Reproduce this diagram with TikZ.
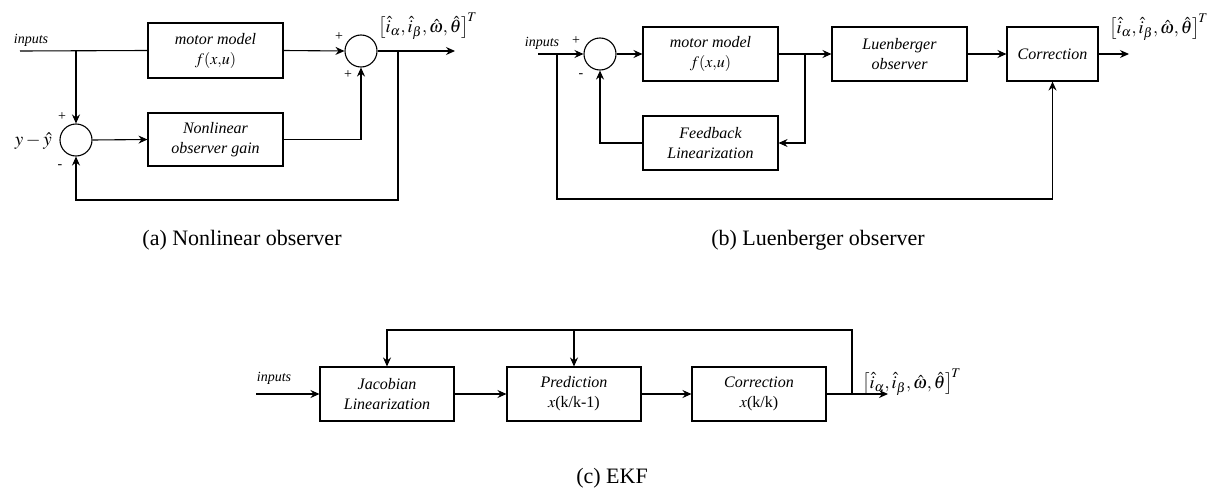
\documentclass[tikz,border=0pt]{standalone}
\usepackage{mathptmx}
\usepackage[no-math]{fontspec}
\setmainfont{Liberation Serif}
\usetikzlibrary{arrows.meta}
\tikzset{
  blk/.style={draw, line width=1.1pt, minimum width=135pt, minimum height=54pt, align=center, inner sep=0pt,
    font=\fontsize{16}{20}\selectfont\itshape},
  sumc/.style={draw, circle, line width=1.1pt, minimum size=32pt, inner sep=0pt},
  arr/.style={line width=1.1pt, -{Stealth[length=9pt,width=8pt,inset=3pt]}},
  ln/.style={line width=1.1pt},
  small/.style={font=\fontsize{14}{16}\selectfont\itshape, inner sep=0pt},
  sgn/.style={font=\fontsize{14}{16}\selectfont, inner sep=0pt},
  outl/.style={font=\fontsize{18}{22}\selectfont, inner sep=0pt, anchor=west},
  captxt/.style={font=\fontsize{22}{26}\selectfont, inner sep=0pt}
}
\newcommand{\outvec}{$\left[\hat{i}_\alpha,\hat{i}_\beta,\hat{\omega},\hat{\theta}\right]^{\!T}$}
\begin{document}
\begin{tikzpicture}[x=1pt,y=-1pt]
\useasboundingbox (0,0) rectangle (1209,495);
% ---------------- (a) ----------------
\node[blk, minimum height=55pt] (mma) at (215.5,50.5) {motor model\\\upshape$f(x{,}u)$};
\node[blk, minimum height=53pt] (nla) at (215.5,139.5) {Nonlinear\\observer gain};
\node[sumc] (s1a) at (76,140) {};
\node[sumc] (s2a) at (361,51) {};
\coordinate (ina) at (20,51);
\coordinate (j1a) at (76,51);
\coordinate (j2a) at (398,51);
\coordinate (outa) at (455,51);
\coordinate (bra) at (398,200);
\node[small] (inputa) at (31,40) {inputs};
\node[sgn] (pa1) at (62,117) {+};
\node[sgn] (ma1) at (60,167) {-};
\node[font=\fontsize{19}{22}\selectfont, inner sep=0pt, anchor=east] (yya) at (52,141) {$y-\hat{y}$};
\node[sgn] (pa2) at (339,37) {+};
\node[sgn] (pa3) at (348,75) {+};
\node[outl] (oa) at (378,26) {\outvec};
\draw[ln] (ina) -- (mma.west);
\draw[arr] (j1a) -- (s1a.north);
\draw[arr] (s1a.east) -- (nla.west);
\draw[arr] (mma.east) -- (s2a.west);
\draw[arr] (nla.east) -| (s2a.south);
\draw[arr] (s2a.east) -- (outa);
\draw[arr] (j2a) -- (bra) -| (s1a.south);
\node[captxt] (capa) at (242,240) {(a) Nonlinear observer};
% ---------------- (b) ----------------
\node[small] (inputb) at (542,43) {inputs};
\node[sgn] (pb1) at (576,41) {+};
\node[sgn] (mb1) at (581,76) {-};
\coordinate (inb) at (538,54);
\coordinate (jb) at (557,54);
\coordinate (jbb) at (557,199);
\node[sumc] (sb) at (600,54) {};
\node[blk] (mmb) at (710.5,54) {motor model\\\upshape$f(x{,}u)$};
\node[blk] (lub) at (899.5,54) {Luenberger\\observer};
\node[blk, minimum width=91pt] (cob) at (1052.5,54) {Correction};
\node[blk] (fbb) at (710.5,143) {Feedback\\Linearization};
\coordinate (j2b) at (805,54);
\coordinate (outb) at (1129,54);
\node[outl] (ob) at (1109,27) {\outvec};
\draw[arr] (inb) -- (sb.west);
\draw[arr] (sb.east) -- (mmb.west);
\draw[arr] (mmb.east) -- (lub.west);
\draw[arr] (j2b) |- (fbb.east);
\draw[arr] (fbb.west) -| (sb.south);
\draw[arr] (lub.east) -- (cob.west);
\draw[arr] (cob.east) -- (outb);
\draw[arr] (jb) -- (jbb) -| (cob.south);
\node[captxt] (capb) at (818,240) {(b) Luenberger observer};
% ---------------- (c) ----------------
\node[small] (inputc) at (274,378) {inputs};
\coordinate (inc) at (256,394);
\node[blk, minimum width=134pt] (jac) at (387,394) {Jacobian\\Linearization};
\node[blk, minimum width=134pt] (prc) at (574,394) {Prediction\\\upshape$x$(k/k-1)};
\node[blk, minimum width=134pt] (coc) at (759,394) {Correction\\\upshape$x$(k/k)};
\coordinate (jc) at (852,394);
\coordinate (trc) at (852,330);
\coordinate (dpc) at (574,330);
\coordinate (outc) at (888,394);
\node[outl] (oc) at (862,382) {\outvec};
\draw[arr] (inc) -- (jac.west);
\draw[arr] (jac.east) -- (prc.west);
\draw[arr] (prc.east) -- (coc.west);
\draw[arr] (coc.east) -- (outc);
\draw[arr] (jc) -- (trc) -| (jac.north);
\draw[arr] (dpc) -- (prc.north);
\node[captxt] (capc) at (612,478) {(c) EKF};
\end{tikzpicture}
\end{document}
